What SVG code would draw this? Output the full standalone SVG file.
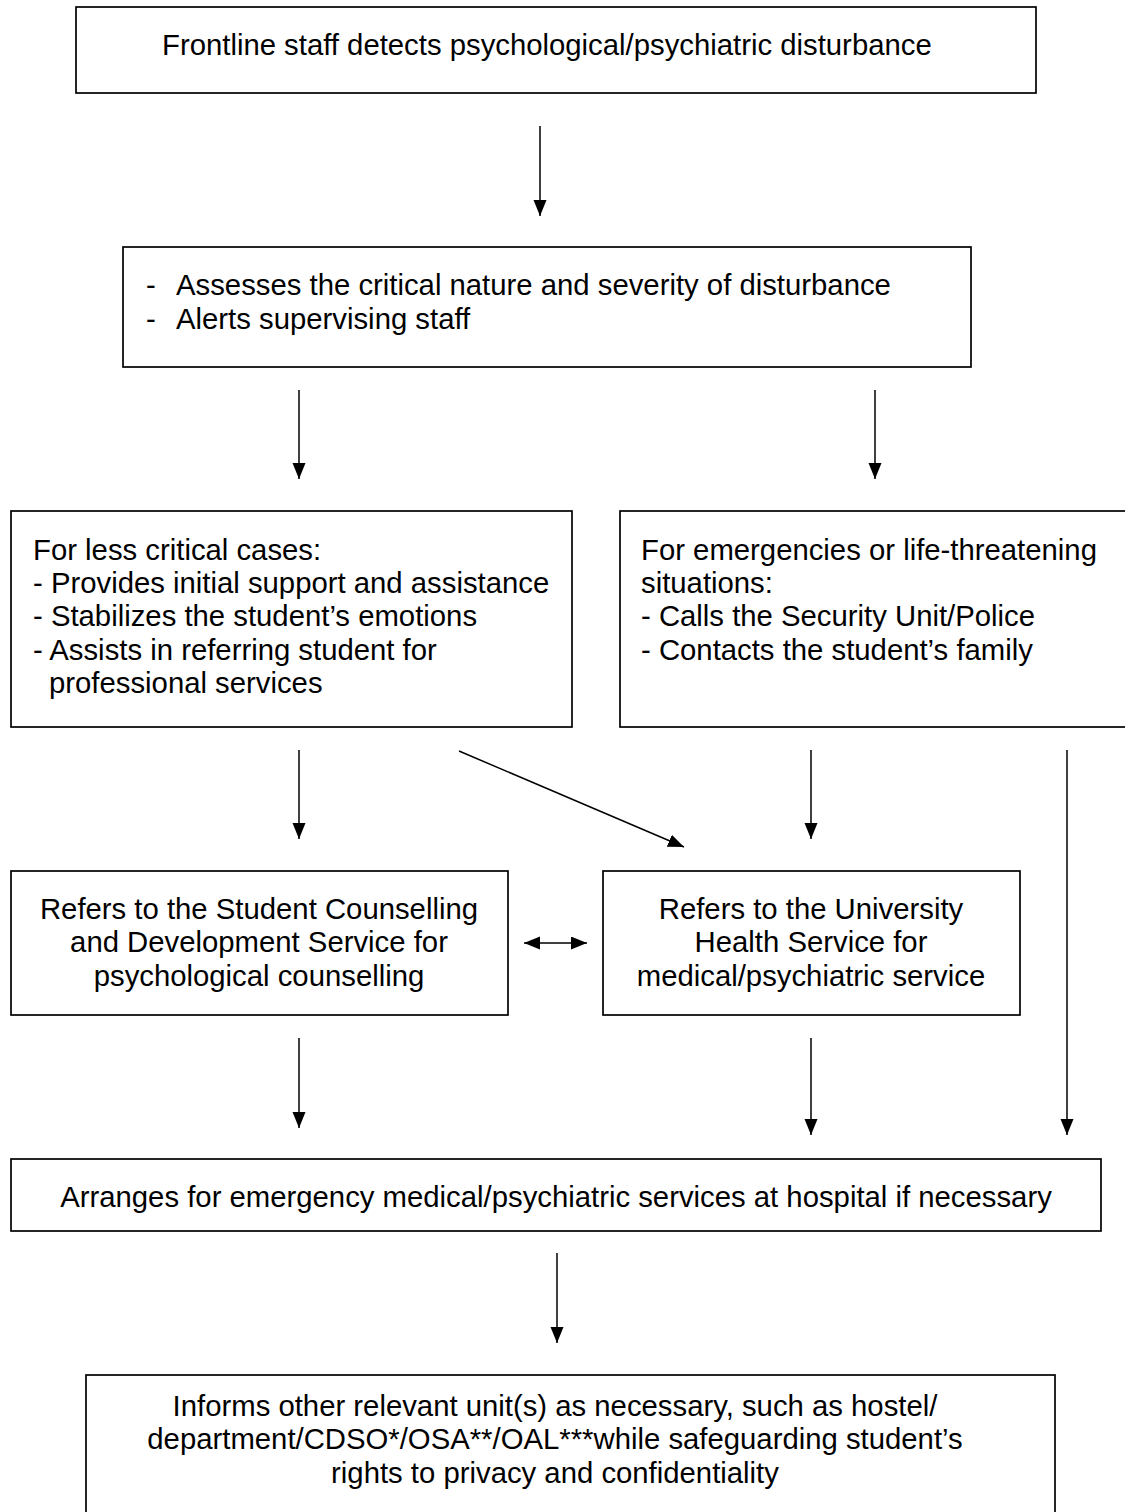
<svg xmlns="http://www.w3.org/2000/svg" width="1125" height="1512" viewBox="0 0 1125 1512">
<defs>
<style>
.box{fill:#fff;stroke:#000;stroke-width:1.7}
.t{font-family:"Liberation Sans",Arial,sans-serif;font-size:29.3px;fill:#000}
.c{text-anchor:middle}
.ln{stroke:#000;stroke-width:1.5;fill:none}
</style>
<marker id="ah" markerUnits="userSpaceOnUse" markerWidth="18" markerHeight="14" refX="16" refY="6.5" orient="auto-start-reverse">
<path d="M0,0 L16,6.5 L0,13 z" fill="#000"/>
</marker>
</defs>
<rect width="1125" height="1512" fill="#fff"/>
<g id="connectors">
<line class="ln" x1="540" y1="126" x2="540" y2="216" marker-end="url(#ah)"/>
<line class="ln" x1="299" y1="390" x2="299" y2="479" marker-end="url(#ah)"/>
<line class="ln" x1="875" y1="390" x2="875" y2="479" marker-end="url(#ah)"/>
<line class="ln" x1="299" y1="750" x2="299" y2="839" marker-end="url(#ah)"/>
<line class="ln" x1="459" y1="751" x2="684" y2="847" marker-end="url(#ah)"/>
<line class="ln" x1="811" y1="750" x2="811" y2="839" marker-end="url(#ah)"/>
<line class="ln" x1="1067" y1="750" x2="1067" y2="1135" marker-end="url(#ah)"/>
<line class="ln" x1="524" y1="943" x2="587" y2="943" marker-start="url(#ah)" marker-end="url(#ah)"/>
<line class="ln" x1="299" y1="1038" x2="299" y2="1128" marker-end="url(#ah)"/>
<line class="ln" x1="811" y1="1038" x2="811" y2="1135" marker-end="url(#ah)"/>
<line class="ln" x1="557" y1="1253" x2="557" y2="1343" marker-end="url(#ah)"/>
</g>
<g id="n1">
<rect class="box" x="76" y="7" width="960" height="86"/>
<text class="t" x="162" y="55">Frontline staff detects psychological/psychiatric disturbance</text>
</g>
<g id="n2">
<rect class="box" x="123" y="247" width="848" height="120"/>
<text class="t" x="146" y="295">-</text>
<text class="t" x="176" y="295">Assesses the critical nature and severity of disturbance</text>
<text class="t" x="146" y="329">-</text>
<text class="t" x="176" y="329">Alerts supervising staff</text>
</g>
<g id="n3">
<rect class="box" x="11" y="511" width="561" height="216"/>
<text class="t" x="33" y="560">For less critical cases:</text>
<text class="t" x="33" y="593">- Provides initial support and assistance</text>
<text class="t" x="33" y="626">- Stabilizes the student’s emotions</text>
<text class="t" x="33" y="660">- Assists in referring student for</text>
<text class="t" x="49" y="693">professional services</text>
</g>
<g id="n4">
<rect class="box" x="620" y="511" width="520" height="216"/>
<text class="t" x="641" y="560">For emergencies or life-threatening</text>
<text class="t" x="641" y="593">situations:</text>
<text class="t" x="641" y="626">- Calls the Security Unit/Police</text>
<text class="t" x="641" y="660">- Contacts the student’s family</text>
</g>
<g id="n5">
<rect class="box" x="11" y="871" width="497" height="144"/>
<text class="t c" x="259" y="919">Refers to the Student Counselling</text>
<text class="t c" x="259" y="952">and Development Service for</text>
<text class="t c" x="259" y="986">psychological counselling</text>
</g>
<g id="n6">
<rect class="box" x="603" y="871" width="417" height="144"/>
<text class="t c" x="811" y="919">Refers to the University</text>
<text class="t c" x="811" y="952">Health Service for</text>
<text class="t c" x="811" y="986">medical/psychiatric service</text>
</g>
<g id="n7">
<rect class="box" x="11" y="1159" width="1090" height="72"/>
<text class="t c" x="556" y="1207">Arranges for emergency medical/psychiatric services at hospital if necessary</text>
</g>
<g id="n8">
<rect class="box" x="86" y="1375" width="969" height="160"/>
<text class="t c" x="555" y="1416">Informs other relevant unit(s) as necessary, such as hostel/</text>
<text class="t c" x="555" y="1449">department/CDSO*/OSA**/OAL***while safeguarding student’s</text>
<text class="t c" x="555" y="1483">rights to privacy and confidentiality</text>
</g>
</svg>
